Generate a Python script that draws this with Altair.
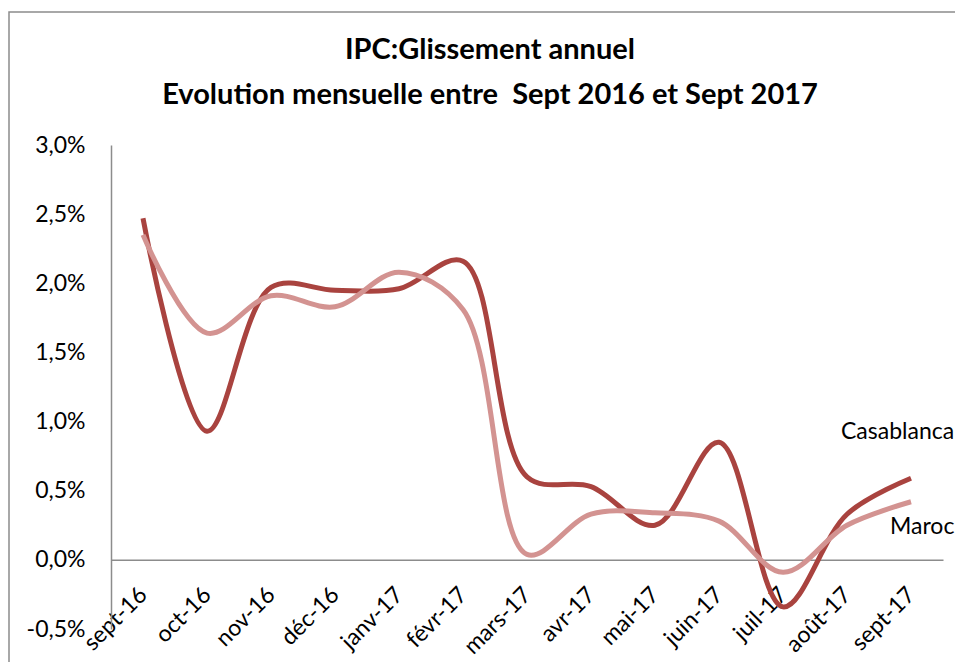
import altair as alt
import pandas as pd

months = ["sept-16", "oct-16", "nov-16", "déc-16", "janv-17", "févr-17", "mars-17",
          "avr-17", "mai-17", "juin-17", "juil-17", "août-17", "sept-17"]
casablanca = [2.47, 0.93, 1.97, 1.95, 1.96, 2.16, 0.60, 0.53, 0.25, 0.85, -0.34, 0.33, 0.59]
maroc = [2.35, 1.64, 1.91, 1.83, 2.08, 1.81, 0.04, 0.33, 0.34, 0.28, -0.09, 0.25, 0.42]
series_names = ["Casablanca", "Maroc"]
series_colors = ["#A9433F", "#D39391"]
title_lines = ["IPC:Glissement annuel", "Evolution mensuelle entre\u00a0 Sept 2016 et Sept 2017"]
y_ticks = [-0.5, 0.0, 0.5, 1.0, 1.5, 2.0, 2.5, 3.0]

rows = []
for m, c, r in zip(months, casablanca, maroc):
    rows.append({"mois": m, "serie": "Casablanca", "valeur": c})
    rows.append({"mois": m, "serie": "Maroc", "valeur": r})
df = pd.DataFrame(rows)

W, H = 832, 484
FONT = "Lato"

x_enc = alt.X("mois:N", sort=months, title=None,
              axis=alt.Axis(offset=-H * 0.5 / 3.5, labelAngle=-45, labelAlign="right",
                            labelBaseline="middle", ticks=False, labelPadding=31,
                            labelFont=FONT, labelFontSize=23, labelColor="#000000",
                            domainColor="#8c8c8c", domainWidth=1.5))
y_enc = alt.Y("valeur:Q", title=None,
              scale=alt.Scale(domain=[-0.5, 3.0], nice=False, zero=False),
              axis=alt.Axis(values=y_ticks, grid=False, ticks=False, labelPadding=26,
                            labelFont=FONT, labelFontSize=23, labelColor="#000000",
                            domainColor="#8c8c8c", domainWidth=1.5,
                            labelExpr="replace(replace(format(datum.value, '.1f'), '.', ','), '\u2212', '-') + '%'"))

lines = alt.Chart(df).mark_line(interpolate="catmull-rom", strokeWidth=5, strokeCap="butt").encode(
    x=x_enc, y=y_enc,
    color=alt.Color("serie:N", scale=alt.Scale(domain=series_names, range=series_colors), legend=None),
    order=alt.Order("serie:N"),
    detail="serie:N",
)

labels_df = pd.DataFrame({"t": series_names, "px": [841 - 111, 890 - 111], "py": [432 - 145, 527 - 145]})
labels = alt.Chart(labels_df).mark_text(align="left", baseline="middle", font=FONT, fontSize=23,
                                        color="#000000").encode(
    x=alt.X("px:Q", scale=None), y=alt.Y("py:Q", scale=None), text="t:N")

title_df = pd.DataFrame({"t": title_lines, "py": [50 - 145, 95 - 145]})
title = alt.Chart(title_df).mark_text(align="center", baseline="middle", font=FONT, fontSize=29,
                                      fontWeight="bold", color="#000000").encode(
    x=alt.value(490 - 111), y=alt.Y("py:Q", scale=None), text="t:N")

border = alt.Chart(pd.DataFrame({"a": [0]})).mark_rect(fill=None, stroke="#8c8c8c", strokeWidth=1.5).encode(
    x=alt.value(-102), x2=alt.value(W + 200), y=alt.value(-133), y2=alt.value(H + 200))

chart = alt.layer(border, lines, labels, title).properties(
    width=W, height=H,
    autosize=alt.AutoSizeParams(type="none"),
    padding={"left": 103, "top": 137, "right": 12, "bottom": 33},
    background="#ffffff",
).configure_view(stroke=None)

chart.save("out.html", embed_options={"renderer": "svg", "actions": False})
